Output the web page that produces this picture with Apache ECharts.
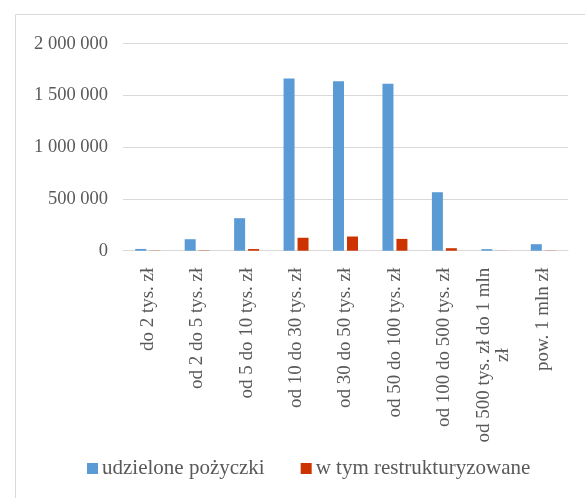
<!DOCTYPE html>
<html lang="pl">
<head>
    <meta charset="UTF-8">
    <title>pożyczki</title>
    <script src="https://cdn.jsdelivr.net/npm/echarts@6/dist/echarts.min.js"></script>
    <style>
        html, body { margin: 0; padding: 0; background: #fff; }
    </style>
</head>
<body>
    <div id="charts1" style="width: 585px;height:498px;"></div>
    <script type="text/javascript">
        // dane
        var kategorie = ['do 2 tys. zł', 'od 2 do 5 tys. zł', 'od 5 do 10 tys. zł', 'od 10 do 30 tys. zł',
            'od 30 do 50 tys. zł', 'od 50 do 100 tys. zł', 'od 100 do 500 tys. zł',
            'od 500 tys. zł do 1 mln zł', 'pow. 1 mln zł'];
        var udzielone = [17000, 111000, 314000, 1664000, 1638000, 1612000, 565000, 15000, 63000];
        var restrukturyzowane = [2000, 3000, 16000, 125000, 137000, 114000, 24000, 1000, 2000];
        var osY = [0, 500000, 1000000, 1500000, 2000000];

        var font = '"Liberation Serif", "Times New Roman", serif';
        var kolorTekstu = '#595959';

        var myChart = echarts.init(document.getElementById('charts1'));

        option = {
            animation: false,
            backgroundColor: '#fff',
            textStyle: { fontFamily: font, color: kolorTekstu },
            graphic: [{
                type: 'rect',
                shape: { x: 15.5, y: 14.5, width: 700, height: 600 },
                style: { fill: 'none', stroke: '#d9d9d9', lineWidth: 1 },
                silent: true
            }],
            grid: { left: 123, right: 17, top: 43.7, bottom: 247.3, containLabel: false },
            legend: {
                left: 87,
                top: 458,
                padding: 0,
                icon: 'rect',
                itemWidth: 11,
                itemHeight: 11,
                itemGap: 36,
                textStyle: { fontFamily: font, fontSize: 21, color: kolorTekstu, padding: [0, 0, 0, -1] },
                data: ['udzielone pożyczki', 'w tym restrukturyzowane']
            },
            xAxis: {
                type: 'category',
                data: kategorie,
                axisLine: { lineStyle: { color: '#d9d9d9' } },
                axisTick: { show: false },
                axisLabel: {
                    rotate: 90,
                    interval: 0,
                    margin: 17,
                    fontFamily: font,
                    fontSize: 19,
                    color: kolorTekstu,
                    lineHeight: 19,
                    formatter: function (v) {
                        if (v === 'od 500 tys. zł do 1 mln zł') {
                            return '{a|od 500 tys. zł do 1 mln}\n{b|zł}';
                        }
                        return v;
                    },
                    rich: {
                        a: { fontFamily: font, fontSize: 19, color: kolorTekstu, lineHeight: 19 },
                        b: { fontFamily: font, fontSize: 19, color: kolorTekstu, lineHeight: 19, align: 'center' }
                    }
                }
            },
            yAxis: {
                type: 'value',
                min: osY[0],
                max: osY[osY.length - 1],
                interval: 500000,
                axisLine: { show: false },
                axisTick: { show: false },
                splitLine: { lineStyle: { color: '#d9d9d9', width: 1 } },
                axisLabel: {
                    margin: 15,
                    fontFamily: font,
                    fontSize: 18.5,
                    color: kolorTekstu,
                    formatter: function (v) {
                        return String(v).replace(/\B(?=(\d{3})+(?!\d))/g, ' ');
                    }
                }
            },
            series: [{
                name: 'udzielone pożyczki',
                type: 'bar',
                data: udzielone,
                barWidth: 11,
                barGap: '27%',
                itemStyle: { color: '#5b9bd5' }
            }, {
                name: 'w tym restrukturyzowane',
                type: 'bar',
                data: restrukturyzowane,
                barWidth: 11,
                itemStyle: { color: '#cc3300' }
            }]
        };
        myChart.setOption(option);
    </script>
</body>
</html>
